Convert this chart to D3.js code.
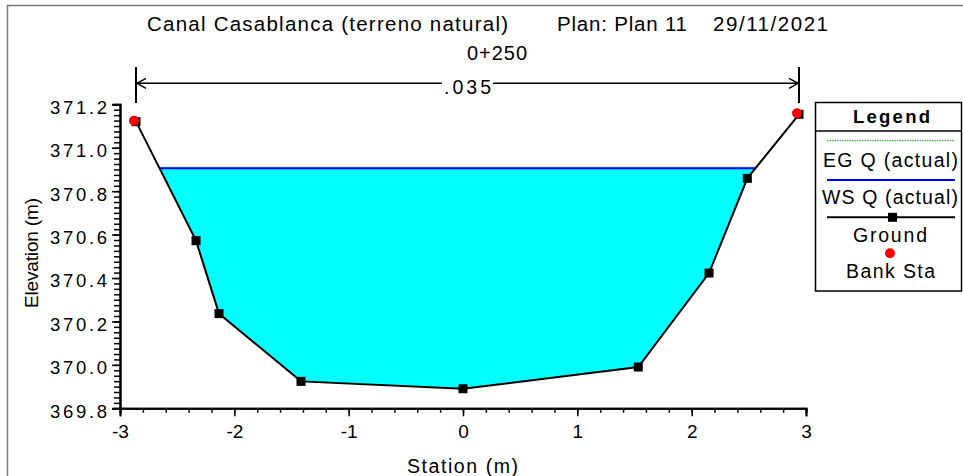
<!DOCTYPE html>
<html><head><meta charset="utf-8">
<script src="https://cdn.jsdelivr.net/npm/d3@7/dist/d3.min.js"></script>
<style>
body{margin:0;background:#fff}
svg{display:block;font-family:"Liberation Sans",Arial,Helvetica,sans-serif}
</style>
</head><body>
<svg id="chart" width="963" height="476"></svg>
<script>
// ---- data ----
const stations   = [-2.86, -2.335, -2.134, -1.417, 0.0, 1.533, 2.152, 2.487, 2.939];
const elevations = [371.12, 370.572, 370.236, 369.924, 369.89, 369.99, 370.423, 370.859, 371.154];
const bankStations = [-2.86, 2.939];
const wsElevation = 370.905;
const egElevation = 370.91;
const manningN = ".035";
const xTickValues = [-3, -2, -1, 0, 1, 2, 3];
const yTickValues = [369.8, 370.0, 370.2, 370.4, 370.6, 370.8, 371.0, 371.2];
const titleParts = ["Canal Casablanca (terreno natural)", "Plan: Plan 11", "29/11/2021"];
const sectionLabel = "0+250";
const xAxisTitle = "Station (m)";
const yAxisTitle = "Elevation (m)";
const legendTitle = "Legend";
const legendLabels = ["EG Q (actual)", "WS Q (actual)", "Ground", "Bank Sta"];

// ---- setup ----
const svg = d3.select("#chart");
const x = d3.scaleLinear().domain([-3, 3]).range([120, 806]);
const y = d3.scaleLinear().domain([369.8, 371.2]).range([408.3, 104.3]);
const ground = stations.map((s, i) => ({s, e: elevations[i]}));

// outer frame
svg.append("path").attr("d", "M7.5,476V5.5H963").attr("fill", "none")
  .attr("stroke", "#7a7a7a").attr("stroke-width", 1.5);

// titles
const titleX = [147, 557, 713], titleL = [361, 130, 115];
titleParts.forEach((t, i) => {
  svg.append("text").attr("x", titleX[i]).attr("y", 31).attr("font-size", 20.5)
    .attr("textLength", titleL[i]).attr("lengthAdjust", "spacing").text(t);
});
svg.append("text").attr("x", 467).attr("y", 59.5).attr("font-size", 20)
  .attr("textLength", 60).attr("lengthAdjust", "spacing").text(sectionLabel);

// water polygon
const water = [];
for (let i = 0; i < ground.length; i++) {
  const p = ground[i];
  if (p.e <= wsElevation) water.push(p);
  if (i < ground.length - 1) {
    const q = ground[i + 1];
    if ((p.e - wsElevation) * (q.e - wsElevation) < 0) {
      const t = (wsElevation - p.e) / (q.e - p.e);
      water.push({s: p.s + t * (q.s - p.s), e: wsElevation});
    }
  }
}
svg.append("path").datum(water)
  .attr("d", d3.line().x(d => x(d.s)).y(d => y(d.e)).curve(d3.curveLinearClosed))
  .attr("fill", "#00ffff");
const wsL = water[0].s, wsR = water[water.length - 1].s;
svg.append("line").attr("x1", x(wsL)).attr("x2", x(wsR)).attr("y1", y(egElevation)).attr("y2", y(egElevation))
  .attr("stroke", "#2a8a2a").attr("stroke-width", 1).attr("stroke-dasharray", "1,1").attr("opacity", 0.7);
svg.append("line").attr("x1", x(wsL)).attr("x2", x(wsR)).attr("y1", y(wsElevation)).attr("y2", y(wsElevation))
  .attr("stroke", "#0000ff").attr("stroke-width", 2);

// ground
svg.append("path").datum(ground)
  .attr("d", d3.line().x(d => x(d.s)).y(d => y(d.e)))
  .attr("fill", "none").attr("stroke", "#000").attr("stroke-width", 2);
svg.selectAll("rect.gp").data(ground)
  .enter().append("rect").attr("class", "gp")
  .attr("x", d => x(d.s) - 4.5).attr("y", d => y(d.e) - 4.5)
  .attr("width", 9).attr("height", 9).attr("fill", "#000");
svg.selectAll("circle.bank").data(ground.filter(d => bankStations.includes(d.s)))
  .enter().append("circle").attr("class", "bank")
  .attr("cx", d => x(d.s)).attr("cy", d => y(d.e)).attr("r", 5)
  .attr("transform", "translate(-2,-1)").attr("fill", "#ff0000");

// bank brackets and n-value
const bTop = 67, bBot = 103, arrowY = 83.3;
bankStations.forEach(b => {
  svg.append("line").attr("x1", x(b)).attr("x2", x(b)).attr("y1", bTop).attr("y2", bBot)
    .attr("stroke", "#000").attr("stroke-width", 2);
});
const nText = svg.append("text").attr("x", (x(bankStations[0]) + x(bankStations[1])) / 2)
  .attr("y", 94).attr("font-size", 19.5).attr("text-anchor", "middle")
  .attr("textLength", 47).attr("lengthAdjust", "spacing").text(manningN);
const nb = nText.node().getBBox();
const xl = x(bankStations[0]), xr = x(bankStations[1]);
svg.append("path").attr("d", `M${nb.x - 2},${arrowY}H${xl + 1}M${xl + 10},${arrowY - 5}L${xl + 1},${arrowY}L${xl + 10},${arrowY + 5}`)
  .attr("fill", "none").attr("stroke", "#000").attr("stroke-width", 1.5);
svg.append("path").attr("d", `M${nb.x + nb.width + 2},${arrowY}H${xr - 1}M${xr - 10},${arrowY - 5}L${xr - 1},${arrowY}L${xr - 10},${arrowY + 5}`)
  .attr("fill", "none").attr("stroke", "#000").attr("stroke-width", 1.5);

// axes
const fmt = d3.format(".1f");
const yMinor = d3.range(0, 57).map(i => 369.8 + i * 0.025);
const xMinor = d3.range(0, 31).map(i => -3 + i * 0.2);
const gyMinor = svg.append("g").attr("transform", "translate(120,0)")
  .call(d3.axisLeft(y).tickValues(yMinor).tickSize(6).tickFormat(""));
const gy = svg.append("g").attr("transform", "translate(120,0)")
  .call(d3.axisLeft(y).tickValues(yTickValues).tickSize(8).tickPadding(5).tickFormat(fmt));
const gxMinor = svg.append("g").attr("transform", "translate(0,408.3)")
  .call(d3.axisBottom(x).tickValues(xMinor).tickSize(4.5).tickFormat(""));
const gx = svg.append("g").attr("transform", "translate(0,408.3)")
  .call(d3.axisBottom(x).tickValues(xTickValues).tickSize(8).tickPadding(7).tickFormat(d => String(d)));
[gy, gx, gyMinor, gxMinor].forEach(g => {
  g.selectAll(".domain").attr("stroke", "#000").attr("stroke-width", 2);
  g.selectAll(".tick line").attr("stroke", "#000").attr("stroke-width", 1.5);
  g.selectAll("text").attr("fill", "#000").attr("font-family", null);
});
gy.selectAll("text").attr("font-size", 18.5).attr("x", -13).attr("dy", "0.48em")
  .attr("textLength", 57).attr("lengthAdjust", "spacing");
gx.selectAll("text").attr("font-size", 19).attr("dy", "0.8em");

svg.append("text").attr("x", 462.5).attr("y", 473).attr("font-size", 19.5).attr("text-anchor", "middle")
  .attr("textLength", 111).attr("lengthAdjust", "spacing").text(xAxisTitle);
svg.append("text").attr("transform", "translate(38,253) rotate(-90)").attr("font-size", 19)
  .attr("text-anchor", "middle").attr("textLength", 110).attr("lengthAdjust", "spacing").text(yAxisTitle);

// legend
const lg = svg.append("g");
lg.append("rect").attr("x", 815.5).attr("y", 102.5).attr("width", 146).attr("height", 188.5)
  .attr("fill", "#fff").attr("stroke", "#000").attr("stroke-width", 1.5);
lg.append("line").attr("x1", 815.5).attr("x2", 961.5).attr("y1", 131).attr("y2", 131)
  .attr("stroke", "#000").attr("stroke-width", 1.5);
lg.append("text").attr("x", 891.5).attr("y", 123).attr("text-anchor", "middle").attr("font-size", 18.5)
  .attr("font-weight", "bold").attr("textLength", 77).attr("lengthAdjust", "spacing").text(legendTitle);
lg.append("line").attr("x1", 827).attr("x2", 954).attr("y1", 140.7).attr("y2", 140.7)
  .attr("stroke", "#109a10").attr("stroke-width", 1).attr("stroke-dasharray", "1.5,1");
lg.append("line").attr("x1", 827).attr("x2", 955).attr("y1", 180).attr("y2", 180)
  .attr("stroke", "#0000ff").attr("stroke-width", 2);
lg.append("line").attr("x1", 827).attr("x2", 955).attr("y1", 217.3).attr("y2", 217.3)
  .attr("stroke", "#000").attr("stroke-width", 2);
lg.append("rect").attr("x", 888).attr("y", 212.8).attr("width", 9).attr("height", 9).attr("fill", "#000");
lg.append("circle").attr("cx", 890).attr("cy", 253.3).attr("r", 5).attr("fill", "#ff0000");
const legX = [823, 822, 853, 846], legL = [135, 136, 74, 89], legY = [167.3, 204, 241.7, 278.3];
legendLabels.forEach((t, i) => {
  lg.append("text").attr("x", legX[i]).attr("y", legY[i]).attr("font-size", 19.5)
    .attr("textLength", legL[i]).attr("lengthAdjust", "spacing").text(t);
});
</script>
</body></html>
